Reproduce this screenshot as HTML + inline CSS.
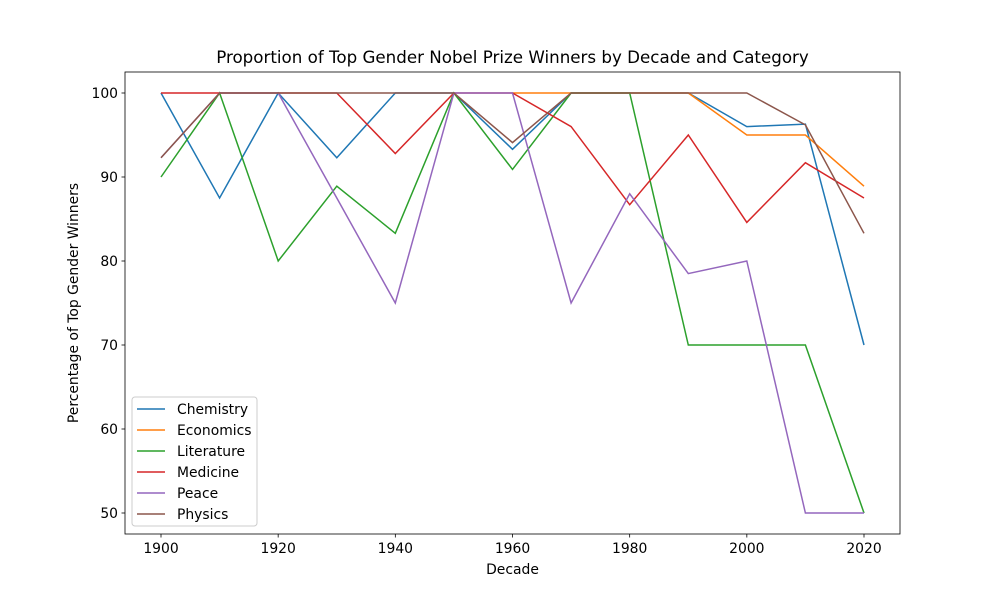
<!DOCTYPE html>
<html><head><meta charset="utf-8"><style>
body{margin:0;background:#fff;}
svg{display:block;font-family:"DejaVu Sans","Liberation Sans",sans-serif;}
</style></head><body>
<svg id="chart" width="1000" height="600"></svg>
<script>
const decades=[1900,1910,1920,1930,1940,1950,1960,1970,1980,1990,2000,2010,2020];
const chemistry=[100,87.5,100,92.3,100,100,93.3,100,100,100,96,96.3,70];
const economics=[null,null,null,null,null,null,100,100,100,100,95,95,88.9];
const literature=[90,100,80,88.9,83.3,100,90.9,100,100,70,70,70,50];
const medicine=[100,100,100,100,92.8,100,100,96,86.7,95,84.6,91.7,87.5];
const peace=[92.3,100,100,87.5,75,100,100,75,88,78.5,80,50,50];
const physics=[92.3,100,100,100,100,100,94.1,100,100,100,100,96.2,83.3];
const seriesNames=["Chemistry","Economics","Literature","Medicine","Peace","Physics"];
const seriesData=[chemistry,economics,literature,medicine,peace,physics];
const colors=["#1f77b4","#ff7f0e","#2ca02c","#d62728","#9467bd","#8c564b"];
const xTicks=[1900,1920,1940,1960,1980,2000,2020];
const yTicks=[50,60,70,80,90,100];
const NS="http://www.w3.org/2000/svg";
const svg=document.getElementById('chart');
const L=125,R=900,T=72,B=534;
const x=v=>161+(v-1900)*(864-161)/120;
const y=v=>93+(100-v)*(513-93)/50;
function mk(tag,attrs,parent){const e=document.createElementNS(NS,tag);for(const k in attrs)e.setAttribute(k,attrs[k]);(parent||svg).appendChild(e);return e;}
const title=mk('text',{x:512.5,y:63,'text-anchor':'middle','font-size':16.7});
title.textContent='Proportion of Top Gender Nobel Prize Winners by Decade and Category';


seriesData.forEach((s,i)=>{
  let d='';let started=false;
  s.forEach((v,j)=>{if(v===null)return;d+=(started?'L':'M')+x(decades[j]).toFixed(1)+','+y(v).toFixed(1);started=true;});
  const p=mk('path',{d:d,fill:'none',stroke:colors[i],'stroke-width':1.5});
  
  
});
const frame=mk('rect',{x:L,y:T,width:R-L,height:B-T,fill:'none',stroke:'#000','stroke-width':0.8});


xTicks.forEach(t=>{
  mk('line',{x1:x(t),x2:x(t),y1:B,y2:B+3.5,stroke:'#000','stroke-width':0.8});
  const tx=mk('text',{x:x(t),y:B+19,'text-anchor':'middle','font-size':13.9});
  tx.textContent=t;
  
  
});
yTicks.forEach(t=>{
  mk('line',{x1:L-3.5,x2:L,y1:y(t),y2:y(t),stroke:'#000','stroke-width':0.8});
  const tx=mk('text',{x:L-7,y:y(t)+5,'text-anchor':'end','font-size':13.9});
  tx.textContent=t;
  
  
});
const xl=mk('text',{x:512.5,y:574,'text-anchor':'middle','font-size':13.9});
xl.textContent='Decade';


const yl=mk('text',{x:78,y:303,'text-anchor':'middle','font-size':13.9,transform:'rotate(-90 78 303)'});
yl.textContent='Percentage of Top Gender Winners';


const lg=mk('g',{});


mk('rect',{x:132,y:397,width:125,height:129,rx:3,fill:'#fff','fill-opacity':0.8,stroke:'#ccc'},lg);
seriesNames.forEach((n,i)=>{
  const yy=409+i*21;
  const ln=mk('line',{x1:137,x2:165,y1:yy,y2:yy,stroke:colors[i],'stroke-width':1.5},lg);
  
  
  const t=mk('text',{x:177,y:yy+5,'font-size':13.9},lg);
  t.textContent=n;
  
  
});
</script>
</body></html>
